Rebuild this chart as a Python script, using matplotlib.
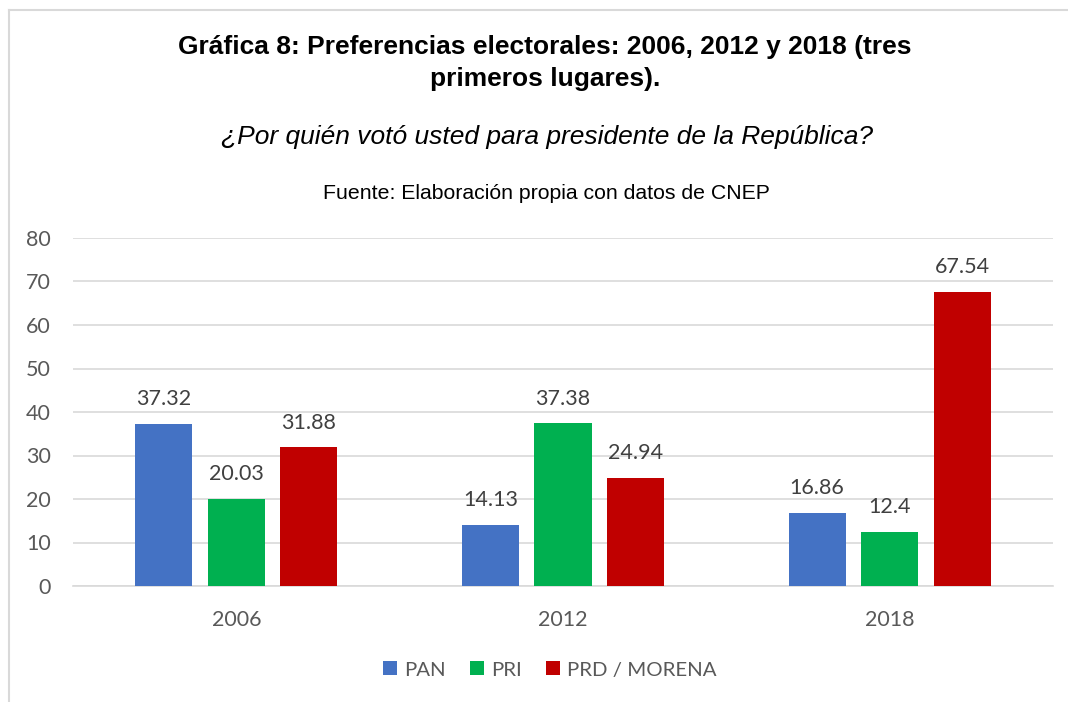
import numpy as np
import matplotlib.pyplot as plt
from matplotlib.lines import Line2D

# ----------------- Datos -----------------
years = ["2006", "2012", "2018"]
parties = ["PAN", "PRI", "PRD / MORENA"]
pan = [37.32, 14.13, 16.86]
pri = [20.03, 37.38, 12.4]
prd_morena = [31.88, 24.94, 67.54]
series = [pan, pri, prd_morena]
colors = ["#4472C4", "#00B050", "#C00000"]
yticks = [0, 10, 20, 30, 40, 50, 60, 70, 80]

tick_font = "Lato"
gray = "#595959"

fig = plt.figure(figsize=(10.68, 7.02), dpi=100)
ax = fig.add_axes([73/1068, 1-586/702, 980/1068, 348/702])

x = np.arange(len(years))
width = 0.175
step = 0.222
for i, (vals, name, c) in enumerate(zip(series, parties, colors)):
    pos = x + (i - 1) * step
    bars = ax.bar(pos, vals, width, color=c, label=name, zorder=3)
    for b, v in zip(bars, vals):
        ax.text(b.get_x() + b.get_width()/2, v + 3.4, f"{v:g}",
                ha="center", va="bottom", fontsize=15.5, color="#404040",
                family=tick_font)

ax.set_xlim(-0.5, 2.5)
ax.set_ylim(0, 80)
ax.set_yticks(yticks)
ax.set_xticks(x)
ax.set_xticklabels(years)
ax.grid(axis="y", color="#D9D9D9", linewidth=1.2, zorder=0)
for s in ["top", "right", "left"]:
    ax.spines[s].set_visible(False)
ax.spines["bottom"].set_color("#D9D9D9")
ax.spines["bottom"].set_linewidth(1.2)
ax.tick_params(axis="both", length=0, labelsize=15.5, labelcolor=gray)
ax.tick_params(axis="y", pad=16)
ax.tick_params(axis="x", pad=17)
for lab in ax.get_xticklabels() + ax.get_yticklabels():
    lab.set_family(tick_font)

# Títulos
cx = 545/1068
fig.text(cx, 1-47/702, "Gráfica 8: Preferencias electorales: 2006, 2012 y 2018 (tres",
         ha="center", va="center", fontsize=19, fontweight="bold",
         family="Liberation Sans")
fig.text(cx, 1-79/702, "primeros lugares).",
         ha="center", va="center", fontsize=19, fontweight="bold",
         family="Liberation Sans")
fig.text(547/1068, 1-137/702, "¿Por quién votó usted para presidente de la República?",
         ha="center", va="center", fontsize=19, style="italic",
         family="Liberation Sans")
fig.text(546/1068, 1-193/702, "Fuente: Elaboración propia con datos de CNEP",
         ha="center", va="center", fontsize=15.3, family="Liberation Sans")

# Leyenda
leg = fig.legend(loc="center", bbox_to_anchor=(550/1068, 1-670/702), ncol=3,
                 frameon=False, handlelength=0.68, handleheight=0.68,
                 handletextpad=0.35, columnspacing=1.2,
                 prop={"family": tick_font, "size": 14.7})
for t in leg.get_texts():
    t.set_color(gray)

# Borde del recuadro
fig.add_artist(Line2D([9/1068, 9/1068], [0, 1-10/702], color="#D9D9D9",
                      linewidth=1.5, transform=fig.transFigure))
fig.add_artist(Line2D([9/1068, 1], [1-10/702, 1-10/702], color="#D9D9D9",
                      linewidth=1.5, transform=fig.transFigure))

fig.savefig("out.png", dpi=100)
